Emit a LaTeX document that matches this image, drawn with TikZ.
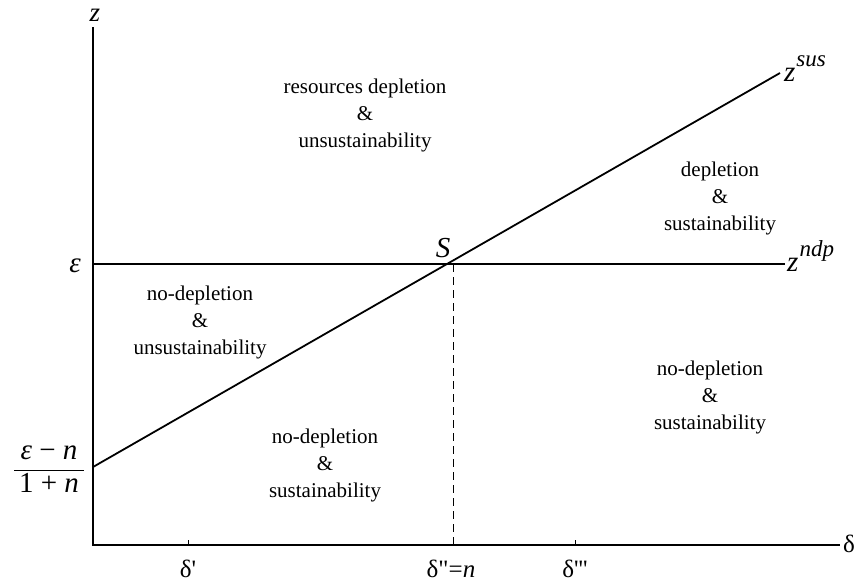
\documentclass[tikz,border=0pt]{standalone}
\usepackage{fontspec}
\setmainfont{Liberation Serif}
\usetikzlibrary{positioning}
\setlength\arrayrulewidth{1.2pt}
\newcommand{\supscr}[1]{\kern1pt\raisebox{15pt}{\fontsize{23}{23}\selectfont #1}}

\begin{document}
\begin{tikzpicture}[x=1pt, y=-1pt,
    region/.style={align=center, font=\fontsize{21}{27}\selectfont},
    axislabel/.style={font=\fontsize{29}{30}\selectfont\itshape, inner sep=0pt},
    ticklabel/.style={font=\fontsize{25}{26}\selectfont, inner sep=0pt, anchor=base}]
    \useasboundingbox (0,0) rectangle (858,587);
    % axes
    \coordinate (origin) at (93,545);
    \coordinate (ztop) at (93,27);
    \coordinate (dend) at (840,545);
    \draw [line width=1.6pt] (ztop) -- (origin) -- (dend);
    \node [axislabel, font=\fontsize{27}{28}\selectfont\itshape, anchor=base] (zlab) at (95,21) {z};
    \node [ticklabel, anchor=base west] (dlab) at (843,552) {δ};
    % curves
    \coordinate (ndpstart) at (93,264);
    \coordinate (ndpend) at (785,264);
    \coordinate (susstart) at (93,467);
    \coordinate (susend) at (780,73);
    \coordinate (S) at (453,264);
    \coordinate (Sfoot) at (453,545);
    \draw [line width=2pt] (ndpstart) -- (ndpend);
    \draw [line width=1.8pt] (susstart) -- (susend);
    \draw [line width=1pt, dash pattern=on 8pt off 5pt] (S) -- (Sfoot);
    \node [axislabel, anchor=base west] (ndplab) at (787,271) {z\supscr{ndp}};
    \node [axislabel, anchor=base west] (suslab) at (784,81) {z\supscr{sus}};
    \node [axislabel, anchor=base] (Slab) at (443,257) {S};
    \node [axislabel, anchor=base east] (epslab) at (81,272) {ε};
    \node [axislabel, anchor=east] (fraclab) at (84,470)
        {\begin{tabular}{@{\,}c@{\,}}ε \upshape− \itshape n\\[1pt]\hline \upshape 1 + \itshape n\end{tabular}};
    % ticks
    \foreach \x/\name in {188/d1, 453/d2, 575/d3}
        \draw [line width=1pt] (\x,545) -- (\x,540) coordinate (\name);
    \node [ticklabel] at (188,577) (d1lab) {δ\textquotesingle};
    \node [ticklabel] at (451,577) (d2lab) {δ\textquotedbl=\itshape n};
    \node [ticklabel] at (575,577) (d3lab) {δ\textquotesingle\textquotesingle\textquotesingle};
    % regions
    \node [region] (rdu) at (365,115) {resources depletion\\\&\\unsustainability};
    \node [region] (ds) at (720,198) {depletion\\\&\\sustainability};
    \node [region] (ndu) at (200,322) {no-depletion\\\&\\unsustainability};
    \node [region] (nds) at (325,465) {no-depletion\\\&\\sustainability};
    \node [region] (ndsr) at (710,397) {no-depletion\\\&\\sustainability};
\end{tikzpicture}
\end{document}
